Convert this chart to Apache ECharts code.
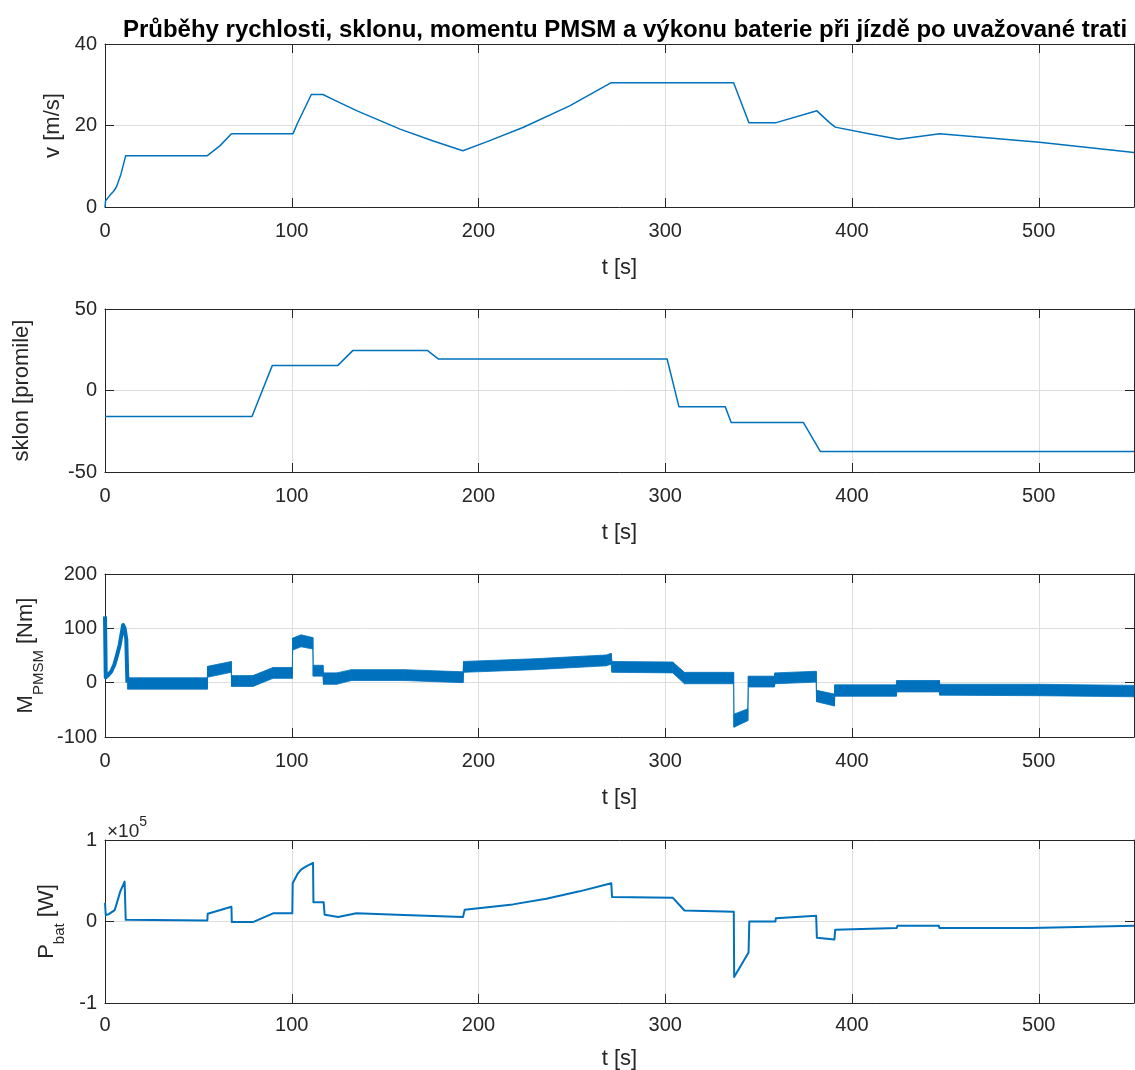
<!DOCTYPE html>
<html>
<head>
<meta charset="utf-8">
<title>Průběhy</title>
<script src="https://cdn.jsdelivr.net/npm/echarts@6/dist/echarts.min.js"></script>
<style>
html,body{margin:0;padding:0;background:#fff;}
#main{width:1135px;height:1070px;}
</style>
</head>
<body>
<div id="main"></div>
<script>
// rychlost v [m/s]
var tV = [0, 0.3, 2.5, 4.5, 6.1, 8.5, 11.1, 54.8, 61.5, 67.7, 100.7, 103, 110.5, 116.7, 122, 135, 158, 175, 191.6, 205, 223.8, 248.8, 271.1, 336.6, 344.8, 359.4, 381.2, 388, 391, 409, 425, 447, 500.4, 551];
var vV = [0, 1.5, 2.8, 3.8, 4.9, 8, 12.6, 12.6, 15.0, 18.0, 18.0, 20.5, 27.6, 27.6, 26.4, 23.6, 19.1, 16.3, 13.8, 16.1, 19.5, 24.8, 30.5, 30.5, 20.7, 20.7, 23.6, 20.7, 19.6, 18.0, 16.6, 18.0, 15.9, 13.4];
// sklon [promile]
var tS = [0, 78.7, 89.6, 124.7, 132.8, 172.6, 178.6, 301, 307.3, 332.1, 335.3, 374, 383, 551];
var sS = [-15.9, -15.9, 15.4, 15.4, 24.6, 24.6, 19.3, 19.3, -9.9, -9.9, -19.7, -19.7, -37.4, -37.4];
// moment PMSM [Nm] - rozjezd
var tM0 = [0, 0.4, 2, 3.4, 5, 6.1, 7.9, 9, 9.7, 10.5, 11.4, 12];
var mM0 = [122, 10, 15, 21, 33, 46, 70, 92, 106, 100, 80, 0];
// moment PMSM [Nm] - zasumeny pas (spodni a horni okraj)
var tM = [12, 54.8, 54.9, 67.6, 67.8, 79.2, 90, 100.3, 100.5, 105, 111.3, 111.5, 116.7, 117, 124, 132, 160, 191.7, 192, 230, 268.4, 271, 271.5, 304, 310.3, 336.6, 336.8, 344.2, 344.5, 358.5, 358.7, 380.8, 381, 390.6, 390.8, 423.7, 424, 446.8, 447, 500, 551];
var mLo = [-12, -12, 10, 19, -7, -7, 8, 8, 60, 66, 62, 12, 12, -3, -3, 4, 4, 0, 19, 24, 31, 34, 19, 18, -2, -2, -82, -70, -8, -8, -2, 1, -35, -43, -25, -25, -17, -17, -23, -24, -26];
var mHi = [9, 9, 30, 39, 13, 13, 28, 28, 82, 88, 83, 32, 32, 18, 18, 24, 24, 20, 39, 44, 51, 54, 39, 38, 19, 19, -58, -48, 12, 12, 18, 21, -14, -21, -4, -4, 4, 4, -3, -3, -5];
// vykon baterie [W]
var tP = [0, 0.4, 2, 5.2, 8.2, 10.5, 11.1, 54.8, 55, 67.7, 67.9, 79.2, 90, 100.3, 100.5, 103, 105.1, 108, 111.4, 111.6, 117.1, 117.6, 121, 124.8, 134.6, 160, 191.7, 192.6, 218.4, 236.3, 254.1, 271.1, 271.5, 304.1, 310.3, 336.7, 336.9, 344.6, 345, 359, 359.2, 380.8, 381.2, 390.6, 391, 424, 424.3, 446.5, 446.8, 496, 551];
var pP = [23000, 8000, 9000, 14000, 37000, 49000, 2000, 1200, 9500, 18000, -700, -700, 10000, 10000, 47000, 58000, 64000, 68000, 72000, 23500, 23500, 8300, 7000, 5400, 10000, 8000, 5400, 14500, 21000, 28000, 37000, 47000, 30000, 29000, 13500, 12000, -68000, -38000, 0, 0, 4000, 7000, -20000, -22000, -10000, -8000, -5300, -5300, -8000, -8000, -5300];

var xTicks = [0, 100, 200, 300, 400, 500];
var yNames = ['v [m/s]', 'sklon [promile]', '{m|M}{s|PMSM}{m| [Nm]}', '{m|P}{s|bat}{m| [W]}'];
var yRanges = [[0, 40, 20], [-50, 50, 50], [-100, 200, 100], [-100000, 100000, 100000]];
var nameGaps = [32, 72, 56, 38];
var xNameGaps = [50, 50, 50, 45];
var xLabelMargins = [14, 14, 14, 12];

var FONT = 'Liberation Sans';
var TXT = '#262626';
var LINE = '#0072BD';

function pairs(t, y){
    return t.map(function(x, i){ return [x, y[i]]; });
}

var myChart = echarts.init(document.getElementById('main'));
var grids = [], xAxes = [], yAxes = [];
var tops = [44, 309, 574, 840];
tops.forEach(function(top, i){
    grids.push({left: 105, top: top, width: 1029, height: 163, outerBoundsMode: 'none', containLabel: false});
    xAxes.push({
        type: 'value', gridIndex: i, position: 'bottom', min: 0, max: 551, interval: 100,
        name: 't [s]', nameLocation: 'middle', nameGap: xNameGaps[i],
        nameTextStyle: {fontFamily: FONT, fontSize: 22, color: TXT},
        axisLine: {onZero: false, lineStyle: {color: TXT, width: 1}},
        axisTick: {inside: true, length: 9, lineStyle: {color: TXT}},
        axisLabel: {fontFamily: FONT, fontSize: 20, color: TXT, margin: xLabelMargins[i], showMaxLabel: false,
            formatter: function(v){ return xTicks.indexOf(v) >= 0 ? String(v) : ''; }},
        splitLine: {show: true, lineStyle: {color: '#dedede', width: 1}}
    });
    xAxes.push({
        type: 'value', gridIndex: i, position: 'top', min: 0, max: 551, interval: 100,
        axisLine: {onZero: false, lineStyle: {color: TXT, width: 1}},
        axisTick: {inside: true, length: 9, lineStyle: {color: TXT}},
        axisLabel: {show: false}, splitLine: {show: false}
    });
    var r = yRanges[i];
    yAxes.push({
        type: 'value', gridIndex: i, position: 'left', min: r[0], max: r[1], interval: r[2],
        name: yNames[i], nameLocation: 'middle', nameRotate: 90, nameGap: nameGaps[i],
        nameTextStyle: {fontFamily: FONT, fontSize: 22, color: TXT,
            rich: {
                m: {fontFamily: FONT, fontSize: 22, color: TXT, lineHeight: 40, verticalAlign: 'middle'},
                s: {fontFamily: FONT, fontSize: 15, color: TXT, lineHeight: 15, verticalAlign: 'bottom'}
            }},
        axisLine: {show: true, onZero: false, lineStyle: {color: TXT, width: 1}},
        axisTick: {show: true, inside: true, length: 9, lineStyle: {color: TXT}},
        axisLabel: {fontFamily: FONT, fontSize: 20, color: TXT, margin: 8,
            formatter: i == 3 ? function(v){ return String(v / 100000); } : null},
        splitLine: {show: true, lineStyle: {color: '#dedede', width: 1}}
    });
    yAxes.push({
        type: 'value', gridIndex: i, position: 'right', min: r[0], max: r[1], interval: r[2],
        axisLine: {show: true, onZero: false, lineStyle: {color: TXT, width: 1}},
        axisTick: {show: true, inside: true, length: 9, lineStyle: {color: TXT}},
        axisLabel: {show: false}, splitLine: {show: false}
    });
});

function lineSeries(idx, data, width){
    return {
        type: 'line', xAxisIndex: idx * 2, yAxisIndex: idx * 2, data: data,
        showSymbol: false, symbol: 'none', clip: true,
        lineStyle: {color: LINE, width: width, join: 'round'},
        itemStyle: {color: LINE}
    };
}

// pas momentu: kazdy usek jako ctyruhelnik mezi spodnim a hornim okrajem
var mSegs = tM.slice(1).map(function(t, i){
    return [tM[i], t, mLo[i], mLo[i + 1], mHi[i], mHi[i + 1]];
});
var bandSeries = {
    type: 'custom', xAxisIndex: 4, yAxisIndex: 4, data: mSegs,
    encode: {x: [0, 1], y: [2, 3, 4, 5]},
    renderItem: function(params, api){
        var pts = [
            api.coord([api.value(0), api.value(2)]),
            api.coord([api.value(1), api.value(3)]),
            api.coord([api.value(1), api.value(5)]),
            api.coord([api.value(0), api.value(4)])
        ];
        return {type: 'polygon', shape: {points: pts}, style: {fill: LINE, stroke: LINE, lineWidth: 0.8}};
    }
};

var option = {
    animation: false,
    backgroundColor: '#fff',
    title: {
        text: 'Průběhy rychlosti, sklonu, momentu PMSM a výkonu baterie při jízdě po uvažované trati',
        left: 620, top: 13, textAlign: 'center',
        textStyle: {fontFamily: FONT, fontSize: 24, fontWeight: 'bold', color: '#000'}
    },
    grid: grids,
    xAxis: xAxes,
    yAxis: yAxes,
    graphic: [{
        type: 'text', left: 107, top: 815,
        style: {
            text: '{a|×10}{b|5}',
            rich: {
                a: {fontFamily: FONT, fontSize: 19, fill: TXT, lineHeight: 26, verticalAlign: 'bottom'},
                b: {fontFamily: FONT, fontSize: 14, fill: TXT, lineHeight: 14, verticalAlign: 'top'}
            }
        }
    }],
    series: [
        lineSeries(0, pairs(tV, vV), 1.5),
        lineSeries(1, pairs(tS, sS), 1.5),
        lineSeries(2, pairs(tM0, mM0), 4),
        bandSeries,
        lineSeries(3, pairs(tP, pP), 2)
    ]
};
myChart.setOption(option);
window.onresize = function(){
    myChart.resize();
}
</script>
</body>
</html>
